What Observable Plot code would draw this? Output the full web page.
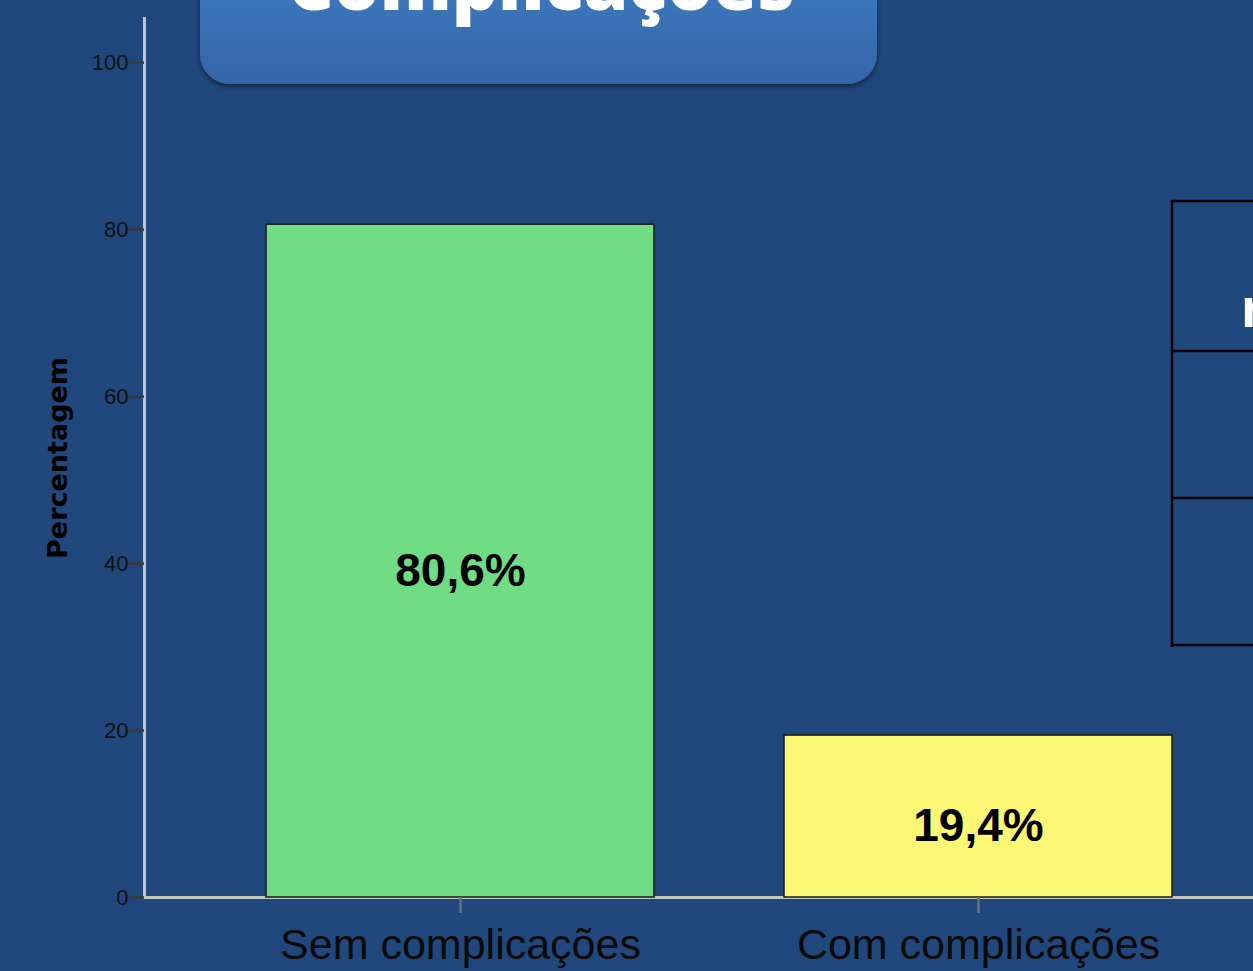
<!DOCTYPE html>
<html><head><meta charset="utf-8">
<script src="https://cdn.jsdelivr.net/npm/d3@7"></script>
<script src="https://cdn.jsdelivr.net/npm/@observablehq/plot@0.6"></script>
<style>
html,body{margin:0;padding:0;background:#20487c;overflow:hidden;}
#wrap{position:relative;width:1253px;height:971px;overflow:hidden;background:#20487c;}
#chart{position:absolute;left:0;top:0;}
#deco{position:absolute;left:0;top:0;pointer-events:none;}
</style></head><body>
<div id="wrap">
<div id="chart"></div>
<svg id="deco" width="1253" height="971">
  <defs>
    <linearGradient id="tg" x1="0" y1="0" x2="0" y2="1">
      <stop offset="0" stop-color="#4080c8"/>
      <stop offset="1" stop-color="#3566a7"/>
    </linearGradient>
    <filter id="sh" x="-10%" y="-10%" width="120%" height="130%">
      <feDropShadow dx="0" dy="3" stdDeviation="2.5" flood-color="#000" flood-opacity="0.45"/>
    </filter>
  </defs>
  <rect x="200" y="-60" width="677" height="144" rx="30" fill="url(#tg)" filter="url(#sh)"/>
  <text id="ttl" x="541" y="10" text-anchor="middle" font-family="Open Sans" font-weight="800" font-size="72" fill="#fff"></text>
  <g stroke="#000" stroke-width="2.5">
    <line x1="1172" y1="200" x2="1172" y2="647"/>
    <line x1="1171" y1="201" x2="1253" y2="201"/>
    <line x1="1171" y1="351" x2="1253" y2="351"/>
    <line x1="1171" y1="498" x2="1253" y2="498"/>
    <line x1="1171" y1="645" x2="1253" y2="645"/>
  </g>
  <text x="1241" y="327" font-family="Liberation Sans" font-weight="700" font-size="56" fill="#fff">n</text>
</svg>
</div>
<script>
const title = "Complicações";
const categories = ["Sem complicações", "Com complicações"];
const percentages = [80.6, 19.4];
const barColors = ["#70dd84", "#fbf775"];
const yTicks = [0, 20, 40, 60, 80, 100];
const yLabel = "Percentagem";

document.getElementById("ttl").textContent = title;

const data = categories.map((c, i) => ({category: c, value: percentages[i]}));
const fmt = v => v.toFixed(1).replace(".", ",") + "%";

const chart = Plot.plot({
  width: 1253, height: 971,
  marginLeft: 144, marginRight: 0, marginTop: 18, marginBottom: 74,
  style: {background: "transparent", fontFamily: "'Liberation Sans', Arial, sans-serif", color: "#000", overflow: "visible"},
  x: {type: "band", domain: categories, range: [144, 1294], paddingInner: 0.251, paddingOuter: 0.2355},
  y: {domain: [0, 105.3]},
  color: {domain: categories, range: barColors},
  marks: [
    Plot.frame({anchor: "bottom", stroke: "#c4c4c4", strokeWidth: 3}),
    Plot.barY(data, {x: "category", y: "value", fill: "category", stroke: "#1a1a1a", strokeWidth: 1.5}),
    Plot.frame({anchor: "left", stroke: "#c4c4c4", strokeWidth: 3}),
    Plot.axisY({ticks: yTicks, tickSize: 15, tickPadding: 1, stroke: "#3a3a3a", strokeWidth: 2.5, fontSize: 22, fill: "#111", label: null}),
    Plot.axisX({tickSize: 16, tickPadding: 15, stroke: "#707070", strokeWidth: 2.5, fontSize: 43, fill: "#0a0a0a", label: null}),
    Plot.text(data, {x: "category", y: d => d.value / 2, text: d => fmt(d.value), fontSize: 46, fontWeight: "bold", fill: "#000", dy: 10}),
    Plot.text([yLabel], {frameAnchor: "left", textAnchor: "middle", text: d => d, rotate: -90, dx: -86, fontSize: 27, fontWeight: "bold", fontFamily: "DejaVu Sans", fill: "#000"})
  ]
});
document.getElementById("chart").appendChild(chart);
</script>
</body></html>
